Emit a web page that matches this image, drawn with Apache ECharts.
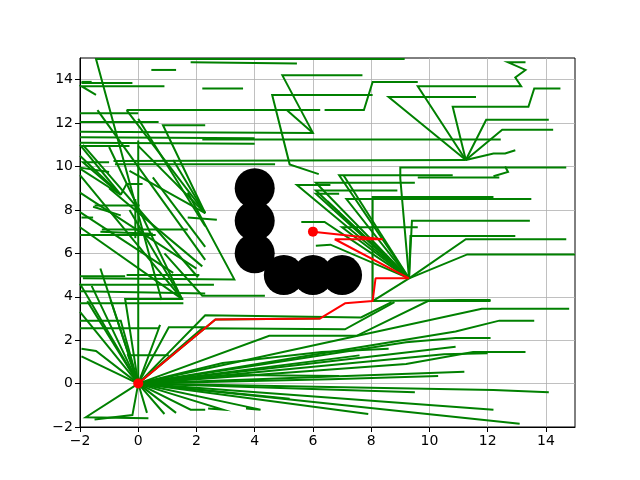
<!DOCTYPE html>
<html>
<head>
<meta charset="utf-8">
<script src="https://cdn.jsdelivr.net/npm/echarts@6/dist/echarts.min.js"></script>
<style>html,body{margin:0;padding:0;background:#fff}#c{width:640px;height:480px}</style>
</head>
<body>
<div id="c"></div>
<script>
// ---- data ----
const tickValues = [-2, 0, 2, 4, 6, 8, 10, 12, 14];
const obstacleX = [4, 4, 4, 5, 6, 7];
const obstacleY = [9, 7.5, 6, 5, 5, 5];
const startPoint = [0, 0];
const goalPoint = [6, 7];
const pathX = [0, 2.65, 6.25, 7.1, 8.05, 8.15, 9.3, 6.75, 8.4, 6.0];
const pathY = [0, 2.95, 3.0, 3.7, 3.8, 4.85, 4.85, 6.65, 6.65, 7.0];

const edgesFromStart = [
 [[0,0],[2.65,2.95],[6.25,3.0]],
 [[0,0],[1.05,2.6],[2.3,2.6]],
 [[0,0],[2.3,3.15],[7.65,3.05],[8.7,3.75]],
 [[0,0],[2.2,2.55],[7.1,2.5],[8.8,3.75]],
 [[0,0],[4.5,2.2],[7.5,2.2],[9.95,3.8],[12.1,3.8]],
 [[0,0],[11.8,3.45],[14.8,3.45]],
 [[0,0],[10.9,2.4],[12.4,2.9],[13.6,2.9]],
 [[0,0],[9.2,1.9],[10.9,2.1],[12.1,2.1]],
 [[0,0],[7.6,1.3]],
 [[0,0],[10.5,1.35],[12.0,1.4]],
 [[0,0],[9.2,0.9],[11.5,1.45],[13.3,1.45]],
 [[0,0],[10.9,1.7]],
 [[0,0],[11.2,0.55]],
 [[0,0],[12.2,-0.3],[14.1,-0.4]],
 [[0,0],[9.5,-0.4]],
 [[0,0],[13.1,-1.85]],
 [[0,0],[7.9,-1.4]],
 [[0,0],[12.2,-1.2]],
 [[0,0],[2.9,0.95],[6.3,1.45],[8.6,1.6]],
 [[0,0],[5.2,-0.7]],
 [[0,0],[2.9,-1.2],[2.4,-1.15]],
 [[0,0],[4.2,-1.2],[3.7,-1.15]],
 [[0,0],[6.6,0.2],[10.3,0.35]],
 [[0,0],[3.3,0.4],[6.9,0.35]],
 [[0,0],[0,11.2]],
 [[0,0],[-1.95,1.25]],
 [[0,0],[-1.45,1.5],[-1.95,1.6]],
 [[0,0],[-2,3.3]],
 [[0,0],[-1.75,3.8]],
 [[0,0],[-1.35,3.8],[-1.6,4.5]],
 [[0,0],[-0.95,3.85]],
 [[0,0],[-2,4.6]],
 [[0,0],[-1.3,5.3]],
 [[0,0],[-0.45,3.9],[1.55,3.9]],
 [[0,0],[-0.35,1.3],[1.05,1.3]],
 [[0,0],[0.75,2.7],[0.7,2.55],[-2,2.55]],
 [[0,0],[-0.6,2.9],[-2,2.9]],
 [[0,0],[-1.8,-1.55],[0.35,-1.6]],
 [[0,0],[-0.2,-1.45],[-1.5,-1.65]],
 [[0,0],[0.3,-1.35]],
 [[0,0],[0.9,-1.4]],
 [[0,0],[1.3,-1.35]],
 [[0,0],[1.8,-1.2],[2.3,-1.2]]
];

const edgesMidRight = [
 [[9.3,4.85],[5.45,9.15],[6.6,9.15]],
 [[9.3,4.85],[6.9,9.6],[10.8,9.6]],
 [[9.3,4.85],[7.05,9.6]],
 [[9.3,4.85],[9.0,9.45],[9.0,9.95],[14.7,9.95]],
 [[9.3,4.85],[6.1,9.25],[9.5,9.25]],
 [[9.3,4.85],[6.1,8.9],[8.9,8.9]],
 [[9.3,4.85],[7.15,8.5],[13.5,8.5]],
 [[9.3,4.85],[6.1,8.75],[6.9,8.75]],
 [[9.3,4.85],[6.5,8.4]],
 [[9.3,4.85],[7.0,7.2],[9.6,7.2]],
 [[9.3,4.85],[9.4,7.5],[13.45,7.5]],
 [[9.3,4.85],[9.35,6.8],[12.95,6.8]],
 [[9.3,4.85],[11.25,6.65],[14.7,6.65]],
 [[9.3,4.85],[11.3,5.95],[15.0,5.95]],
 [[9.3,4.85],[6.4,7.45],[5.6,7.45]],
 [[9.3,4.85],[6.6,6.4],[6.1,6.35]],
 [[9.3,4.85],[8.05,3.8]],
 [[8.05,3.8],[8.05,8.6],[12.2,8.6]],
 [[8.05,3.8],[11.0,3.85],[12.1,3.85]],
 [[9.6,9.5],[12.4,9.5]],
 [[12.6,10.0],[12.7,9.75],[12.2,9.55]]
];

const edgesUpperRight = [
 [[11.25,10.3],[9.6,13.7],[13.15,13.7],[12.95,14.1],[13.3,14.45],[12.7,14.8],[13.3,14.8]],
 [[11.25,10.3],[8.6,13.2],[11.6,13.2]],
 [[11.25,10.3],[10.8,12.75],[13.4,12.75],[13.6,13.6],[14.5,13.6]],
 [[11.25,10.3],[11.95,12.15],[14.1,12.15]],
 [[11.25,10.3],[12.5,11.7],[14.25,11.7]],
 [[11.25,10.3],[12.2,10.6],[12.6,10.6],[12.95,10.75]],
 [[11.25,10.3],[-0.85,10.25]],
 [[12.45,11.25],[2.2,11.25]],
 [[9.6,13.9],[8.05,13.9],[7.75,12.6],[6.4,12.6]],
 [[8.05,13.3],[4.6,13.3],[5.2,10.1],[6.2,9.65]],
 [[7.7,14.2],[4.95,14.2],[6.0,11.55],[-2,11.6]],
 [[5.1,12.6],[6.0,11.55]],
 [[9.15,14.95],[-1.45,14.95],[0.8,3.85]],
 [[1.8,14.8],[5.45,14.75]],
 [[0.45,14.45],[1.3,14.45]],
 [[2.2,13.6],[3.6,13.6]],
 [[-0.4,12.6],[6.25,12.6]]
];

const edgesUpperLeft = [
 [[-1.95,13.9],[-1.6,13.9]],
 [[-0.2,13.85],[-1.95,13.85]],
 [[0.9,13.7],[-1.95,13.7],[-1.45,13.3]],
 [[-2,12.45],[0,12.45]],
 [[-2,12.05],[0.7,12.05]],
 [[2.3,7.85],[0.85,11.9],[2.3,11.9]],
 [[-2,11.35],[4.0,11.3]],
 [[-2,11.1],[4.0,11.05]],
 [[-1.95,10.95],[-0.3,10.95]],
 [[-0.8,10.1],[4.7,10.1]],
 [[-2,9.95],[-1.0,9.75]],
 [[2.3,7.85],[-0.4,12.6]],
 [[2.3,7.85],[0.0,10.95]],
 [[2.3,7.85],[-0.3,9.8]],
 [[2.3,7.85],[1.2,10.3]],
 [[1.5,3.9],[-1.0,10.9]],
 [[1.5,3.9],[-2,9.6]],
 [[1.5,3.9],[-0.3,8.0]],
 [[1.5,3.9],[-2,7.2]],
 [[-1.9,11.0],[2.05,4.9]],
 [[-1.4,12.6],[2.3,5.7]],
 [[0.0,12.2],[2.3,7.25]],
 [[-0.6,8.7],[-2,11.0]],
 [[-0.6,8.7],[-2,10.5]],
 [[-0.6,8.7],[-2,9.9]],
 [[-0.6,8.7],[-1.9,10.2],[-1.0,10.2]],
 [[-0.6,8.7],[-0.4,9.2],[0.15,9.2]],
 [[-1.5,8.2],[0.05,8.2]],
 [[-1.55,8.15],[-0.6,7.75]],
 [[-1.95,7.65],[-1.55,7.65]],
 [[-1.25,7.1],[1.7,7.1]],
 [[-1.3,7.0],[0.5,6.9]],
 [[-2,6.85],[0.6,6.85]],
 [[1.7,7.65],[2.7,7.55]],
 [[1.7,8.8],[3.3,4.8],[-1.9,4.85]],
 [[-2,4.95],[-0.45,4.95]],
 [[-0.4,5.0],[2.1,5.0]],
 [[-2,4.55],[2.6,4.55]],
 [[-2,4.25],[2.3,4.15]],
 [[0.9,6.0],[2.2,4.05],[4.35,4.05]],
 [[-2,3.7],[1.55,3.7]],
 [[-0.1,6.7],[-0.1,8.5]],
 [[-2,8.8],[2.0,5.3]],
 [[-2,7.9],[1.2,5.1]],
 [[-1.0,9.0],[2.2,5.4]],
 [[0.5,9.5],[2.3,6.3]]
];

// ---- chart ----
const allEdges = [].concat(edgesFromStart, edgesMidRight, edgesUpperRight, edgesUpperLeft);
const fmt = v => String(v).replace('-', '\u2212');
function axis(){
  return {
    type: 'value', min: -2, max: 15, interval: 2,
    axisLine: {show: true, onZero: false, lineStyle: {color: '#000', width: 1}},
    axisTick: {show: true, length: 5, lineStyle: {color: '#000', width: 1}, customValues: tickValues},
    axisLabel: {color: '#000', fontSize: 14, fontFamily: 'DejaVu Sans', margin: 7, formatter: fmt, customValues: tickValues},
    splitLine: {show: true, lineStyle: {color: '#b0b0b0', width: 0.8}}
  };
}
const chart = echarts.init(document.getElementById('c'), null, {renderer: 'canvas'});
chart.setOption({
  animation: false,
  grid: {left: 80, right: 65, top: 58, bottom: 53, show: true, borderColor: '#000', borderWidth: 1},
  xAxis: axis(),
  yAxis: axis(),
  series: [
    {type: 'lines', coordinateSystem: 'cartesian2d', polyline: true, silent: true, z: 2,
     lineStyle: {color: '#008000', width: 2, opacity: 1},
     data: allEdges.map(c => ({coords: c}))},
    {type: 'scatter', z: 3, symbolSize: 40, itemStyle: {color: '#000', opacity: 1},
     data: obstacleX.map((x, i) => [x, obstacleY[i]])},
    {type: 'line', z: 4, showSymbol: false, lineStyle: {color: '#ff0000', width: 2},
     data: pathX.map((x, i) => [x, pathY[i]])},
    {type: 'scatter', z: 5, symbolSize: 10, itemStyle: {color: '#ff0000', opacity: 1},
     data: [startPoint, goalPoint]}
  ]
});
</script>
</body>
</html>
